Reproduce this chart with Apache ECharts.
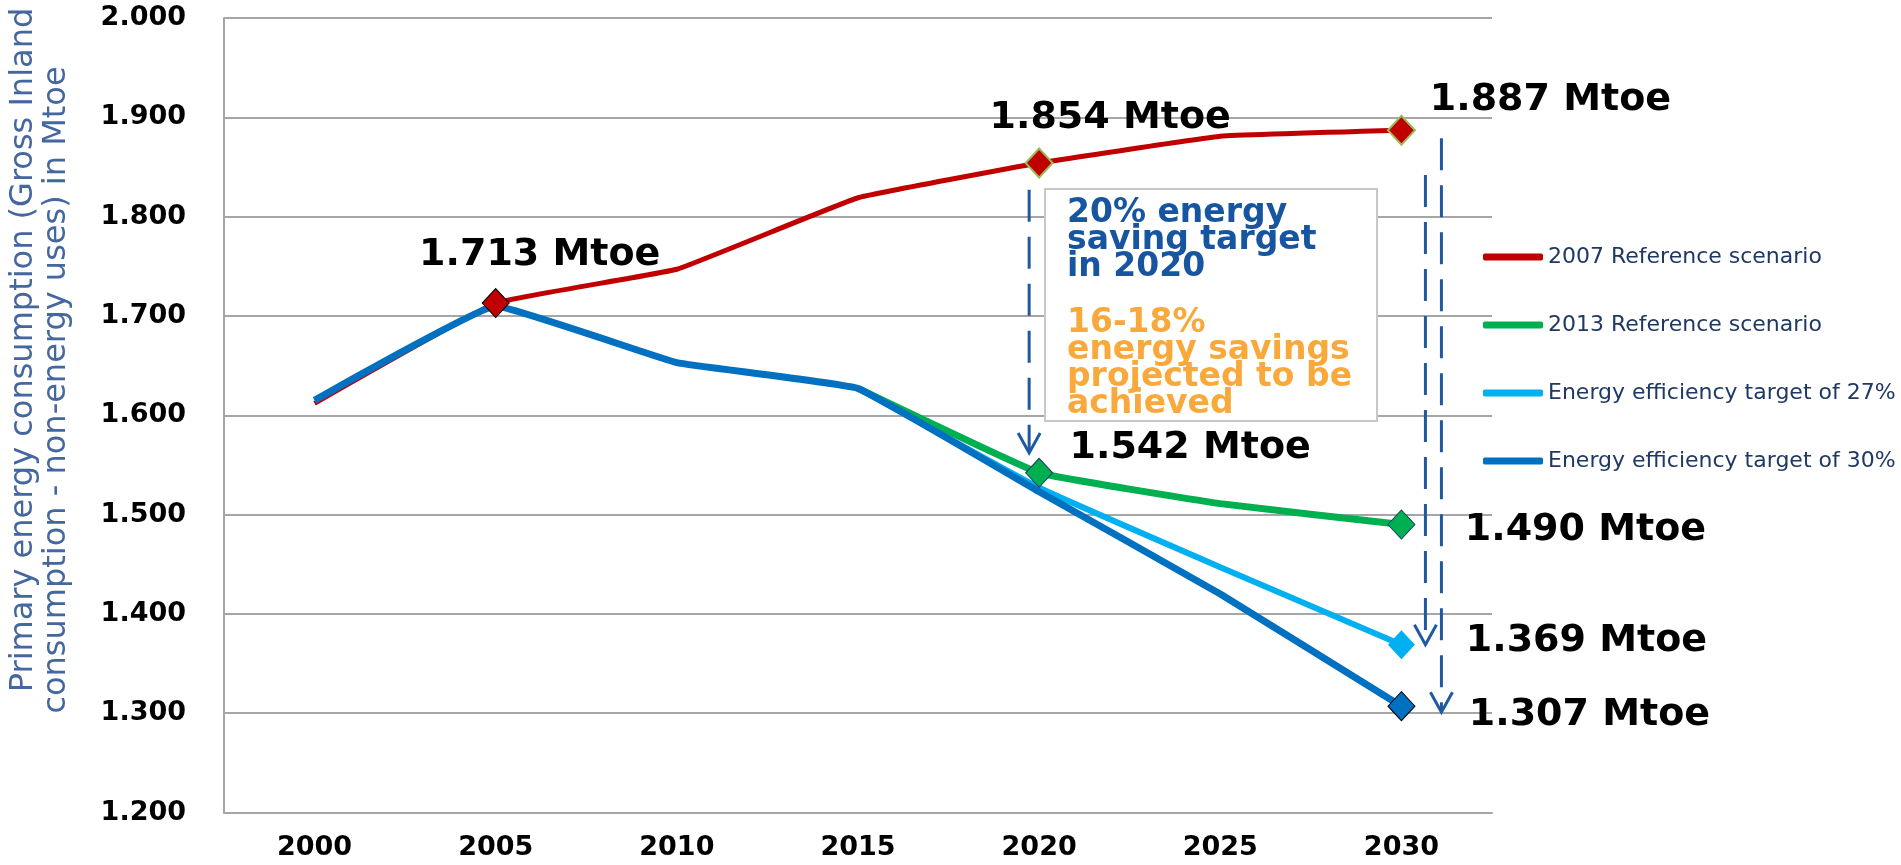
<!DOCTYPE html>
<html><head><meta charset="utf-8">
<script src="https://cdn.jsdelivr.net/npm/echarts@6/dist/echarts.min.js"></script>
<style>html,body{margin:0;padding:0;background:#fff}#c{width:1901px;height:865px}</style>
</head><body><div id="c"></div>
<script>
// ---- data ----
const years = ['2000','2005','2010','2015','2020','2025','2030'];
const ref2007 = [1612, 1713, 1747, 1819, 1854, 1881, 1887];
const ref2013 = [null, null, null, 1627, 1542, 1511, 1490];
const eff27   = [null, null, null, 1627, 1527, 1447, 1369];
const eff30   = [1615, 1710, 1653, 1627, 1523, 1420, 1307];
const seriesNames = ['2007 Reference scenario','2013 Reference scenario','Energy efficiency target of 27%','Energy efficiency target of 30%'];
const yMin = 1200, yMax = 2000, yStep = 100;
// labelled points: [series index, year index]
const labelled = [[0,1],[0,4],[0,6],[1,4],[1,6],[2,6],[3,6]];
const boxTarget = ['20% energy','saving target','in 2020'];
const boxAchieved = ['16-18%','energy savings','projected to be','achieved'];
const yTitle = ['Primary energy consumption (Gross Inland','consumption - non-energy uses) in Mtoe'];
// dashed arrows: [year index, from value, to value]
const arrows = [[4, 1827, 1562],[6, 1842, 1369],[6, 1879, 1301]];

// ---- styles ----
const allData = [ref2007, ref2013, eff27, eff30];
const colors = ['#c00000','#00b050','#00b0f0','#0070c0'];
const widths = [5, 7, 6, 7];
const markBorders = [['#000',1],['#9bbb59',2],['#9bbb59',2],['#1f3864',1],['#1f3864',1],['#00b0f0',0],['#000',1]];
const labelOffsets = [[44,-48],[71,-45],[149,-30],[151,-25],[184,6],[185,-4],[188,9]];
const arrowDx = [-10, 24, 40];
const FONT = 'DejaVu Sans';
const fmt = v => (v/1000).toFixed(3);

const chart = echarts.init(document.getElementById('c'), null, {renderer:'canvas'});

const lineSeries = allData.map((d,i) => ({
  name: seriesNames[i], type:'line', data:d, smooth:0.08, symbol:'none',
  color: colors[i],
  lineStyle:{color:colors[i], width:widths[i]},
  z: 2+i, emphasis:{disabled:true}
}));

const scatterData = labelled.map(([si,yi],k) => ({
  value:[yi, allData[si][yi]],
  itemStyle:{color:colors[si], borderColor:markBorders[k][0], borderWidth:markBorders[k][1], opacity:1},
  label:{offset:labelOffsets[k]}
}));

chart.setOption({
  animation:false,
  textStyle:{fontFamily:FONT},
  grid:{left:224, right:409, top:18, bottom:52.5, containLabel:false},
  legend:{
    data:seriesNames, orient:'vertical', left:1478, top:240,
    itemWidth:60, itemHeight:7, itemGap:44, icon:'roundRect', selectedMode:false,
    textStyle:{fontSize:22, fontFamily:FONT, color:'#1f3864', lineHeight:24}
  },
  xAxis:{
    type:'category', data:years, boundaryGap:true,
    axisLine:{show:true, lineStyle:{color:'#a6a6a6', width:2}},
    axisTick:{show:false},
    axisLabel:{fontSize:27, fontWeight:'bold', color:'#000', margin:22, fontFamily:FONT}
  },
  yAxis:{
    type:'value', min:yMin, max:yMax, interval:yStep,
    axisLine:{show:true, lineStyle:{color:'#a6a6a6', width:2}},
    axisTick:{show:false},
    splitLine:{lineStyle:{color:'#a6a6a6', width:2}},
    axisLabel:{formatter:v=>fmt(v), fontSize:27, fontWeight:'bold', color:'#000', margin:38, fontFamily:FONT}
  },
  series: lineSeries.concat([{
    name:'markers', type:'scatter', data:scatterData, symbol:'diamond', symbolSize:[27,29], z:10,
    itemStyle:{opacity:1},
    emphasis:{disabled:true},
    label:{show:true, position:'inside', formatter:p=>fmt(p.value[1])+' Mtoe', opacity:1,
      fontSize:38, fontWeight:'bold', color:'#000', fontFamily:FONT}
  }])
});

// ---- annotations ----
const g = [];
arrows.forEach(([yi, v0, v1], k) => {
  const p0 = chart.convertToPixel({gridIndex:0}, [yi, v0]);
  const p1 = chart.convertToPixel({gridIndex:0}, [yi, v1]);
  const x = p0[0] + arrowDx[k];
  g.push({type:'line', z:20, shape:{x1:x, y1:p0[1], x2:x, y2:p1[1]-2},
    style:{stroke:'#1f5aa0', lineWidth:3, lineDash:[32,15]}});
  g.push({type:'polyline', z:20, shape:{points:[[x-11,p1[1]-20],[x,p1[1]],[x+11,p1[1]-20]]},
    style:{stroke:'#1f5aa0', lineWidth:3, fill:null}});
});
g.push({type:'rect', z:15, shape:{x:1045, y:189, width:332, height:232},
  style:{fill:'#fff', stroke:'#c8c8c8', lineWidth:2}});
g.push({type:'text', z:16, x:1067, y:200, style:{text:boxTarget.join('\n'),
  fontSize:33, fontWeight:'bold', fontFamily:FONT, fill:'#1755a0', lineHeight:27, verticalAlign:'top', align:'left'}});
g.push({type:'text', z:16, x:1067, y:310, style:{text:boxAchieved.join('\n'),
  fontSize:33, fontWeight:'bold', fontFamily:FONT, fill:'#f9a93b', lineHeight:27, verticalAlign:'top', align:'left'}});
g.push({type:'text', z:16, x:24, y:350, rotation:Math.PI/2, style:{text:yTitle[0],
  fontSize:32, fontFamily:FONT, fill:'#44679e', align:'center', verticalAlign:'middle'}});
g.push({type:'text', z:16, x:57, y:390, rotation:Math.PI/2, style:{text:yTitle[1],
  fontSize:32, fontFamily:FONT, fill:'#44679e', align:'center', verticalAlign:'middle'}});
chart.setOption({graphic:g});
</script></body></html>
